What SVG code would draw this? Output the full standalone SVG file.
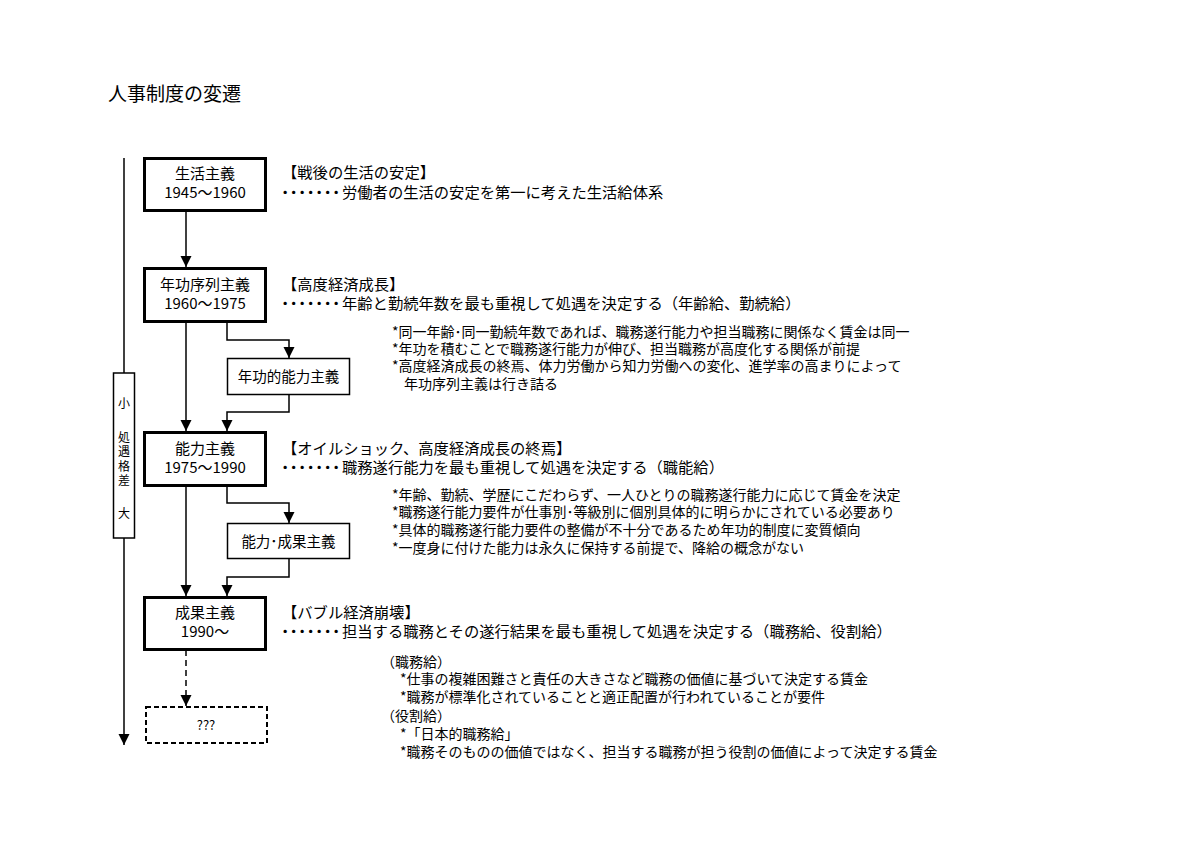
<svg xmlns="http://www.w3.org/2000/svg" width="1200" height="848" viewBox="0 0 1200 848">
<style>
text{font-family:"Noto Sans CJK JP","Noto Sans",sans-serif;fill:#000}
.title{font-size:19px}
.bx{font-size:15px;text-anchor:middle}
.sb{font-size:14.5px;text-anchor:middle}
.hd{font-size:15.3px}
.bl{font-size:14px}
.vl{font-size:12px;text-anchor:middle}
.vt{font-size:12px;text-anchor:middle;writing-mode:vertical-rl;letter-spacing:2.5px}
.dots{letter-spacing:-6.8px}
.thick{fill:#fff;stroke:#000;stroke-width:3}
.thin{fill:#fff;stroke:#000;stroke-width:1.5}
.dash{fill:#fff;stroke:#000;stroke-width:2;stroke-dasharray:5 3}
.cn{fill:none;stroke:#000;stroke-width:1.5}
</style>
<defs>
<marker id="ah" viewBox="0 0 12 12" refX="12" refY="6" markerWidth="11" markerHeight="12" markerUnits="userSpaceOnUse" orient="auto">
<path d="M0,0 L12,6 L0,12 z" fill="#000"/>
</marker>
</defs>
<rect width="1200" height="848" fill="#fff"/>
<text class="title" x="108" y="101">人事制度の変遷</text>

<g id="connectors">
<path class="cn" d="M124,158 V745" marker-end="url(#ah)"/>
<path class="cn" d="M186,212 V267" marker-end="url(#ah)"/>
<path class="cn" d="M186,323 V431" marker-end="url(#ah)"/>
<path class="cn" d="M227,323 V340 H289 V358" marker-end="url(#ah)"/>
<path class="cn" d="M289,395 V412 H227 V431" marker-end="url(#ah)"/>
<path class="cn" d="M186,486 V596" marker-end="url(#ah)"/>
<path class="cn" d="M227,486 V503 H289 V523" marker-end="url(#ah)"/>
<path class="cn" d="M289,559 V577 H227 V596" marker-end="url(#ah)"/>
<path class="cn" d="M186,650 V706" stroke-dasharray="6 4" marker-end="url(#ah)"/>
</g>

<g id="axis-label">
<rect class="thin" x="113.5" y="373" width="21" height="165"/>
<text class="vl" x="124" y="408">小</text>
<text class="vt" x="124" y="460">処遇格差</text>
<text class="vl" x="124" y="518">大</text>
</g>

<g id="n-seikatsu">
<rect class="thick" x="144.5" y="158.5" width="121" height="52"/>
<text class="bx"><tspan x="205" y="179">生活主義</tspan><tspan x="205" y="198">1945〜1960</tspan></text>
</g>
<g id="n-nenko">
<rect class="thick" x="144.5" y="268.5" width="121" height="53"/>
<text class="bx"><tspan x="205" y="290">年功序列主義</tspan><tspan x="205" y="309">1960〜1975</tspan></text>
</g>
<g id="n-nenkoteki">
<rect class="thin" x="227.5" y="358.5" width="122" height="36"/>
<text class="sb" x="288.5" y="382">年功的能力主義</text>
</g>
<g id="n-noryoku">
<rect class="thick" x="144.5" y="432.5" width="121" height="53"/>
<text class="bx"><tspan x="205" y="454">能力主義</tspan><tspan x="205" y="473">1975〜1990</tspan></text>
</g>
<g id="n-noryokuseika">
<rect class="thin" x="227.5" y="523.5" width="122" height="35"/>
<text class="sb" x="288.5" y="547">能力･成果主義</text>
</g>
<g id="n-seika">
<rect class="thick" x="144.5" y="597.5" width="121" height="52"/>
<text class="bx"><tspan x="205" y="618">成果主義</tspan><tspan x="205" y="637">1990〜</tspan></text>
</g>
<g id="n-unknown">
<rect class="dash" x="146" y="707" width="121" height="36"/>
<text class="bx" x="206" y="730" style="font-size:13px">???</text>
</g>

<g id="desc-seikatsu">
<text class="hd"><tspan x="282" y="178">【戦後の生活の安定】</tspan><tspan class="dots" x="277.5" y="198">・・・・・・・</tspan><tspan x="342" y="198">労働者の生活の安定を第一に考えた生活給体系</tspan></text>
</g>
<g id="desc-nenko">
<text class="hd"><tspan x="282" y="290">【高度経済成長】</tspan><tspan class="dots" x="277.5" y="309">・・・・・・・</tspan><tspan x="342" y="309">年齢と勤続年数を最も重視して処遇を決定する（年齢給、勤続給）</tspan></text>
<text class="bl"><tspan x="392" y="337">*同一年齢･同一勤続年数であれば、職務遂行能力や担当職務に関係なく賃金は同一</tspan><tspan x="392" y="354">*年功を積むことで職務遂行能力が伸び、担当職務が高度化する関係が前提</tspan><tspan x="392" y="371">*高度経済成長の終焉、体力労働から知力労働への変化、進学率の高まりによって</tspan><tspan x="404" y="389">年功序列主義は行き詰る</tspan></text>
</g>
<g id="desc-noryoku">
<text class="hd"><tspan x="282" y="454">【オイルショック、高度経済成長の終焉】</tspan><tspan class="dots" x="277.5" y="473">・・・・・・・</tspan><tspan x="342" y="473">職務遂行能力を最も重視して処遇を決定する（職能給）</tspan></text>
<text class="bl"><tspan x="392" y="500">*年齢、勤続、学歴にこだわらず、一人ひとりの職務遂行能力に応じて賃金を決定</tspan><tspan x="392" y="517">*職務遂行能力要件が仕事別･等級別に個別具体的に明らかにされている必要あり</tspan><tspan x="392" y="535">*具体的職務遂行能力要件の整備が不十分であるため年功的制度に変質傾向</tspan><tspan x="392" y="553">*一度身に付けた能力は永久に保持する前提で、降給の概念がない</tspan></text>
</g>
<g id="desc-seika">
<text class="hd"><tspan x="282" y="618">【バブル経済崩壊】</tspan><tspan class="dots" x="277.5" y="637">・・・・・・・</tspan><tspan x="342" y="637">担当する職務とその遂行結果を最も重視して処遇を決定する（職務給、役割給）</tspan></text>
<text class="bl"><tspan x="381" y="667">（職務給）</tspan><tspan x="400" y="684">*仕事の複雑困難さと責任の大きさなど職務の価値に基づいて決定する賃金</tspan><tspan x="400" y="702">*職務が標準化されていることと適正配置が行われていることが要件</tspan><tspan x="381" y="721">（役割給）</tspan><tspan x="400" y="739">*「日本的職務給」</tspan><tspan x="400" y="757">*職務そのものの価値ではなく、担当する職務が担う役割の価値によって決定する賃金</tspan></text>
</g>
</svg>
